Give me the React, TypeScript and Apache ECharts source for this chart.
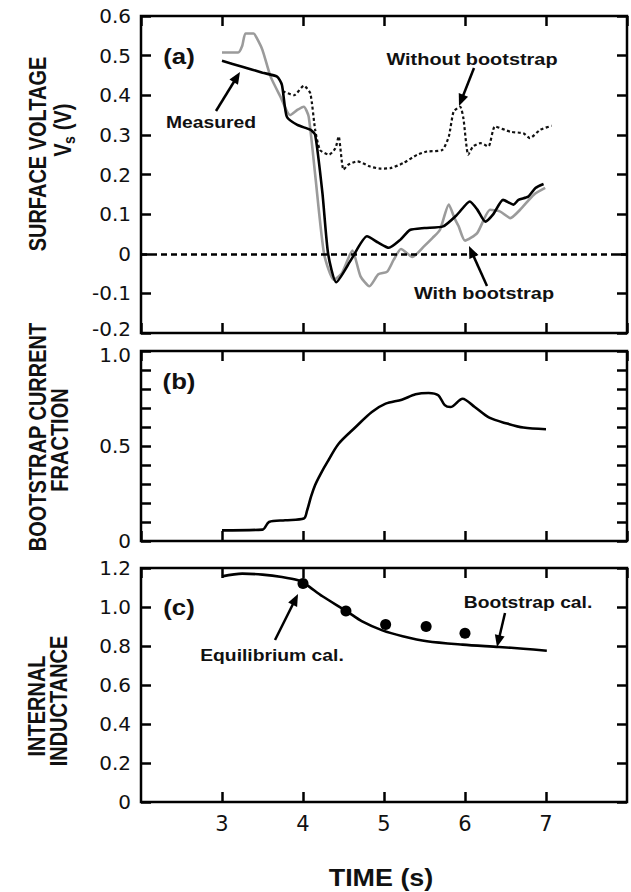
import React, { useEffect, useRef } from "react";
import * as echarts from "echarts";

const W = 631;
const H = 892;

// ---- Panel (a): surface voltage (V) vs time (s)
const measuredT = [3.0, 3.25, 3.5, 3.68, 3.74, 3.8, 3.93, 4.09, 4.15, 4.24, 4.31, 4.41, 4.6, 4.79, 4.93, 5.06, 5.2, 5.32, 5.5, 5.73, 5.9, 6.06, 6.15, 6.25, 6.35, 6.47, 6.6, 6.66, 6.78, 6.87, 6.97];
const measuredV = [0.487, 0.472, 0.457, 0.447, 0.426, 0.346, 0.325, 0.313, 0.3, 0.153, 0.0, -0.072, -0.013, 0.044, 0.028, 0.015, 0.035, 0.06, 0.065, 0.069, 0.098, 0.132, 0.112, 0.081, 0.1, 0.136, 0.124, 0.136, 0.144, 0.166, 0.176];

const withT = [3.0, 3.2, 3.25, 3.29, 3.39, 3.43, 3.5, 3.6, 3.72, 3.84, 3.93, 4.01, 4.07, 4.15, 4.26, 4.38, 4.48, 4.61, 4.71, 4.82, 4.93, 5.04, 5.12, 5.21, 5.35, 5.49, 5.6, 5.69, 5.8, 5.87, 5.92, 6.0, 6.15, 6.31, 6.43, 6.56, 6.68, 6.85, 6.99];
const withV = [0.508, 0.508, 0.525, 0.556, 0.556, 0.544, 0.514, 0.447, 0.397, 0.35, 0.363, 0.371, 0.346, 0.2, 0.0, -0.066, -0.049, 0.008, -0.057, -0.082, -0.052, -0.045, -0.015, 0.012, -0.008, 0.018, 0.04, 0.06, 0.124, 0.09, 0.07, 0.033, 0.052, 0.111, 0.107, 0.09, 0.111, 0.149, 0.166];

const withoutT = [3.75, 3.89, 4.01, 4.09, 4.15, 4.21, 4.32, 4.4, 4.44, 4.5, 4.56, 4.67, 4.83, 4.95, 5.08, 5.24, 5.41, 5.53, 5.72, 5.8, 5.86, 5.94, 5.98, 6.04, 6.1, 6.19, 6.29, 6.37, 6.56, 6.72, 6.8, 6.93, 7.07];
const withoutV = [0.41, 0.4, 0.424, 0.405, 0.313, 0.262, 0.25, 0.266, 0.296, 0.212, 0.225, 0.233, 0.22, 0.215, 0.216, 0.229, 0.25, 0.258, 0.262, 0.296, 0.359, 0.371, 0.342, 0.25, 0.271, 0.279, 0.271, 0.321, 0.308, 0.304, 0.292, 0.313, 0.323];

// ---- Panel (b): bootstrap current fraction
const fracT = [3.0, 3.5, 3.58, 3.78, 4.01, 4.05, 4.1, 4.15, 4.22, 4.3, 4.44, 4.65, 4.85, 5.02, 5.22, 5.39, 5.55, 5.67, 5.75, 5.82, 5.97, 6.12, 6.3, 6.52, 6.72, 7.0];
const fracV = [0.056, 0.06, 0.1, 0.109, 0.118, 0.16, 0.235, 0.295, 0.355, 0.415, 0.512, 0.6, 0.679, 0.723, 0.744, 0.772, 0.779, 0.767, 0.715, 0.705, 0.749, 0.705, 0.649, 0.618, 0.597, 0.588];

// ---- Panel (c): internal inductance
const liT = [3.0, 3.25, 3.5, 3.74, 3.94, 4.04, 4.24, 4.54, 4.73, 4.98, 5.23, 5.53, 5.97, 6.42, 6.72, 7.01];
const liV = [1.157, 1.171, 1.166, 1.154, 1.137, 1.115, 1.055, 0.978, 0.926, 0.88, 0.85, 0.824, 0.807, 0.795, 0.786, 0.776];
const eqT = [4.0, 4.53, 5.02, 5.52, 6.0];
const eqV = [1.12, 0.98, 0.91, 0.9, 0.865];

// ---- axes
const timeMin = 2;
const timeMax = 8;
const timeStep = 1;
const vsRange = [-0.2, 0.6, 0.1];
const fracRange = [0, 1, 0.1];
const fracLabels = ["0", "0.5", "1.0"];
const liRange = [0, 1.2, 0.2];

const pairs = (xs: number[], ys: number[]) => xs.map((x, i) => [x, ys[i]]);

const TICK_FONT = "DejaVu Sans";
const BOLD_FONT = "Liberation Sans";
const STRETCH = 1.17;
const TICK_SIZE = 20;

const richLabels = {
  up: { fontFamily: TICK_FONT, fontSize: TICK_SIZE, color: "#111", padding: [0, 0, 8, 0] },
  dn: { fontFamily: TICK_FONT, fontSize: TICK_SIZE, color: "#111", padding: [8, 0, 0, 0] },
};

function xAxes(grid: number, showLabels: boolean) {
  const base = {
    type: "value",
    gridIndex: grid,
    min: timeMin,
    max: timeMax,
    interval: timeStep,
    axisLine: { show: false, onZero: false },
    splitLine: { show: false },
    axisTick: { show: true, inside: true, length: 10, lineStyle: { color: "#000", width: 2.5 } },
  };
  return [
    {
      ...base,
      position: "bottom",
      axisLabel: {
        show: showLabels,
        showMinLabel: false,
        showMaxLabel: false,
        fontFamily: TICK_FONT,
        fontSize: 21,
        color: "#111",
        margin: 11,
      },
    },
    { ...base, position: "top", axisLabel: { show: false } },
  ];
}

function yAxes(grid: number, range: number[], formatter: (v: number) => string) {
  const base = {
    type: "value",
    gridIndex: grid,
    min: range[0],
    max: range[1],
    interval: range[2],
    axisLine: { show: false, onZero: false },
    splitLine: { show: false },
    axisTick: { show: true, inside: true, length: 10, lineStyle: { color: "#000", width: 2.5 } },
  };
  return [
    {
      ...base,
      position: "left",
      axisLabel: { formatter, fontFamily: TICK_FONT, fontSize: TICK_SIZE, color: "#111", margin: 10, rich: richLabels },
    },
    { ...base, position: "right", axisLabel: { show: false } },
  ];
}

const near = (a: number, b: number) => Math.abs(a - b) < 1e-6;

function hText(text: string, x: number, y: number, size: number) {
  return {
    type: "text",
    x,
    y,
    scaleX: STRETCH,
    z: 100,
    style: {
      text,
      fontFamily: BOLD_FONT,
      fontWeight: "bold",
      fontSize: size,
      fill: "#111",
      textAlign: "center",
      textVerticalAlign: "middle",
    },
  };
}

function vText(text: string, x: number, y: number, size: number) {
  return {
    type: "text",
    x,
    y,
    rotation: Math.PI / 2,
    scaleY: STRETCH,
    z: 100,
    style: {
      text,
      fontFamily: BOLD_FONT,
      fontWeight: "bold",
      fontSize: size,
      fill: "#111",
      textAlign: "center",
      textVerticalAlign: "middle",
    },
  };
}

function arrow(x1: number, y1: number, x2: number, y2: number) {
  const dx = x2 - x1;
  const dy = y2 - y1;
  const L = Math.hypot(dx, dy);
  const ux = dx / L;
  const uy = dy / L;
  const hl = 12;
  const hw = 5;
  const bx = x2 - ux * hl;
  const by = y2 - uy * hl;
  return [
    {
      type: "line",
      z: 100,
      shape: { x1, y1, x2: bx + ux * 2, y2: by + uy * 2 },
      style: { stroke: "#000", lineWidth: 2.5 },
    },
    {
      type: "polygon",
      z: 100,
      shape: {
        points: [
          [x2, y2],
          [bx - uy * hw, by + ux * hw],
          [bx + uy * hw, by - ux * hw],
        ],
      },
      style: { fill: "#000" },
    },
  ];
}

export default function App() {
  const ref = useRef<HTMLDivElement>(null);

  useEffect(() => {
    if (!ref.current) return;
    const chart = echarts.init(ref.current, null, { renderer: "svg" });

    const gridBase = { left: 141, width: 486, show: true, borderColor: "#000", borderWidth: 2.5, backgroundColor: "transparent" };

    const option: any = {
      animation: false,
      backgroundColor: "#fff",
      grid: [
        { ...gridBase, top: 16, height: 317 },
        { ...gridBase, top: 351, height: 190 },
        { ...gridBase, top: 568, height: 234 },
      ],
      xAxis: [...xAxes(0, false), ...xAxes(1, false), ...xAxes(2, true)],
      yAxis: [
        ...yAxes(0, vsRange, (v: number) =>
          near(v, 0) ? "0" : near(v, vsRange[0]) ? `{up|${v.toFixed(1)}}` : v.toFixed(1)
        ),
        ...yAxes(1, fracRange, (v: number) =>
          near(v, 0) ? fracLabels[0] : near(v, 0.5) ? fracLabels[1] : near(v, 1) ? `{dn|${fracLabels[2]}}` : ""
        ),
        ...yAxes(2, liRange, (v: number) => (near(v, 0) ? "0" : v.toFixed(1))),
      ],
      series: [
        {
          name: "With bootstrap",
          type: "line",
          xAxisIndex: 0,
          yAxisIndex: 0,
          data: pairs(withT, withV),
          showSymbol: false,
          smooth: 0.2,
          lineStyle: { color: "#9b9b9b", width: 2.6 },
          z: 2,
          markLine: {
            silent: true,
            symbol: ["none", "none"],
            label: { show: false },
            lineStyle: { color: "#000", width: 2.5, type: [6, 4] },
            data: [{ yAxis: 0 }],
          },
        },
        {
          name: "Without bootstrap",
          type: "line",
          xAxisIndex: 0,
          yAxisIndex: 0,
          data: pairs(withoutT, withoutV),
          showSymbol: false,
          smooth: 0.2,
          lineStyle: { color: "#111", width: 2.2, type: [3, 2.5] },
          z: 3,
        },
        {
          name: "Measured",
          type: "line",
          xAxisIndex: 0,
          yAxisIndex: 0,
          data: pairs(measuredT, measuredV),
          showSymbol: false,
          smooth: 0.2,
          lineStyle: { color: "#000", width: 2.6 },
          z: 4,
        },
        {
          name: "Bootstrap fraction",
          type: "line",
          xAxisIndex: 2,
          yAxisIndex: 2,
          data: pairs(fracT, fracV),
          showSymbol: false,
          smooth: 0.3,
          lineStyle: { color: "#000", width: 2.6 },
        },
        {
          name: "Bootstrap cal.",
          type: "line",
          xAxisIndex: 4,
          yAxisIndex: 4,
          data: pairs(liT, liV),
          showSymbol: false,
          smooth: 0.3,
          lineStyle: { color: "#000", width: 2.6 },
        },
        {
          name: "Equilibrium cal.",
          type: "scatter",
          xAxisIndex: 4,
          yAxisIndex: 4,
          data: pairs(eqT, eqV),
          symbol: "circle",
          symbolSize: 11,
          itemStyle: { color: "#000", opacity: 1 },
          z: 5,
        },
      ],
      graphic: [
        vText("SURFACE VOLTAGE", 38, 154, 20),
        vText("V", 63, 150, 20),
        vText("s", 69, 140, 14),
        vText("(V)", 63, 117, 20),
        vText("BOOTSTRAP CURRENT", 38, 437, 20),
        vText("FRACTION", 60, 440, 20),
        vText("INTERNAL", 37, 706, 20),
        vText("INDUCTANCE", 59, 701, 20),
        hText("(a)", 179, 56, 22),
        hText("(b)", 179, 381, 22),
        hText("(c)", 179, 607, 22),
        hText("Measured", 211, 122, 16.5),
        ...arrow(216, 111, 240, 72),
        hText("Without bootstrap", 472, 59, 17),
        ...arrow(474, 68, 459, 106),
        hText("With bootstrap", 484, 293, 17),
        ...arrow(487, 286, 469, 246),
        hText("Equilibrium cal.", 272, 655, 16.5),
        ...arrow(275, 640, 298, 594),
        hText("Bootstrap cal.", 528, 602, 16.5),
        ...arrow(505, 613, 497, 647),
        hText("TIME (s)", 381, 878, 23),
      ],
    };

    chart.setOption(option);
    return () => chart.dispose();
  }, []);

  return (
    <div
      ref={ref}
      style={{ position: "fixed", left: 0, top: 0, width: W, height: H, background: "#fff" }}
    />
  );
}
